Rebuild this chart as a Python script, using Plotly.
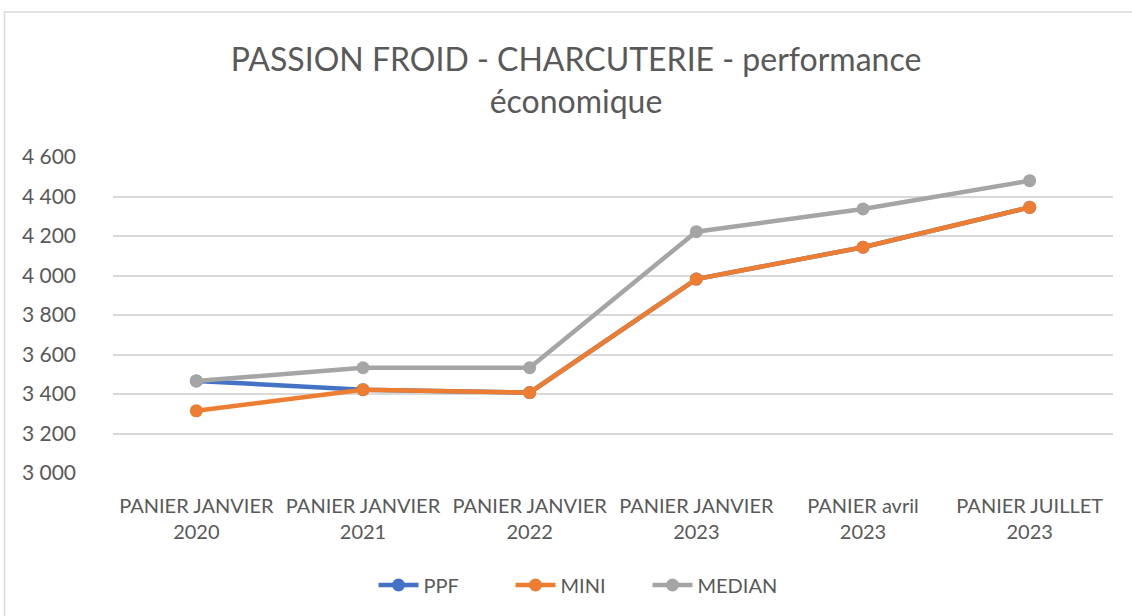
import plotly.graph_objects as go

categories = ["PANIER JANVIER<br>2020", "PANIER JANVIER<br>2021", "PANIER JANVIER<br>2022",
              "PANIER JANVIER<br>2023", "PANIER avril<br>2023", "PANIER JUILLET<br>2023"]
ppf = [3466, 3422, 3407, 3982, 4143, 4345]
mini = [3315, 3422, 3407, 3982, 4143, 4345]
median = [3466, 3533, 3533, 4222, 4337, 4480]

series = [("PPF", ppf, "#4472C4"), ("MINI", mini, "#ED7D31"), ("MEDIAN", median, "#A5A5A5")]

W, H = 1132, 616
L, R, T, B = 113, 19, 157, 143

fig = go.Figure()
for name, vals, col in series:
    fig.add_trace(go.Scatter(
        x=categories, y=vals, name=name, mode="lines+markers",
        line=dict(color=col, width=4.5), marker=dict(color=col, size=13),
    ))

pw, ph = W - L - R, H - T - B
fig.add_shape(type="rect", xref="paper", yref="paper",
              x0=(4.5 - L) / pw, x1=(W + 10 - L) / pw,
              y0=-(H + 10 - (H - B)) / ph, y1=((H - B) - 12) / ph,
              line=dict(color="#D9D9D9", width=1.5), fillcolor="rgba(0,0,0,0)", layer="below")

fig.update_layout(
    width=W, height=H,
    margin=dict(l=L, r=R, t=T, b=B),
    paper_bgcolor="white", plot_bgcolor="white",
    separators=", ",
    font=dict(family="Lato, Open Sans, sans-serif", color="#595959", size=20),
    title=dict(text="PASSION FROID - CHARCUTERIE - performance<br>économique",
               x=576 / W, xanchor="center", y=1 - 71 / H, yanchor="middle",
               font=dict(size=32, color="#595959")),
    xaxis=dict(showgrid=False, showline=False, ticks="", tickfont=dict(size=20),
               range=[-0.5, 5.5], zeroline=False, ticklabelstandoff=19),
    yaxis=dict(range=[3000, 4600], dtick=200, tickformat=",d", gridcolor="#D9D9D9",
               gridwidth=1.5, zeroline=False, showline=False, ticks="",
               tickfont=dict(size=21), ticklabelstandoff=36),
    legend=dict(orientation="h", x=0.466, xanchor="center", y=-(585 - (H - B)) / ph,
                yanchor="middle", font=dict(size=20), itemwidth=40,
                entrywidth=82, entrywidthmode="pixels"),
    showlegend=True,
)

fig.write_html("out.html", config={"displayModeBar": False},
               post_script="document.body.style.margin='0';")
